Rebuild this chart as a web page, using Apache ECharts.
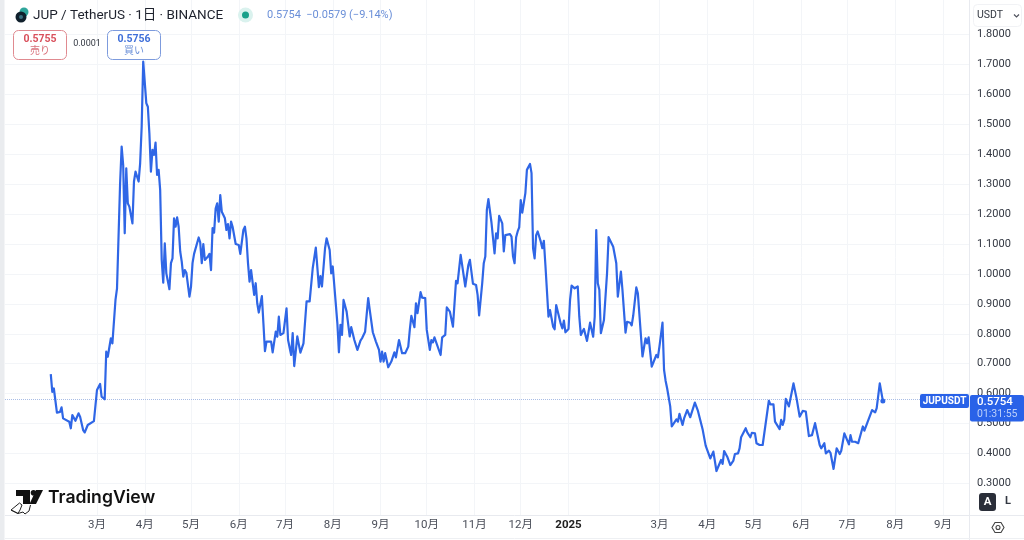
<!DOCTYPE html>
<html><head><meta charset="utf-8">
<style>html,body{margin:0;padding:0;background:#fff}#c{width:1024px;height:540px}</style>
<script src="https://cdn.jsdelivr.net/npm/echarts@6/dist/echarts.min.js"></script>
</head><body><div id="c"></div>
<script>
// Days counted from 2024-01-31
const days = [
0,1,2,4,6,7,8,12,13,14,16,18,19,21,22,24,28,30,31,32,33,35,36,37,39,40,42,43,45,46,
47,48,49,50,51,53,54,55,56,57,58,59,60,62,63,64,65,66,67,68,69,70,71,72,73,74,75,77,78,79,
80,81,82,83,84,85,86,87,88,90,91,92,93,94,96,97,98,99,100,102,103,104,105,106,107,108,109,110,111,113,
114,115,116,117,118,120,122,123,125,126,127,128,129,130,132,133,134,135,137,138,139,140,143,144,146,147,148,
149,151,153,154,156,157,158,160,162,164,166,168,170,172,174,175,176,178,179,181,
182,183,186,187,188,189,190,192,194,195,197,199,201,202,204,206,207,208,209,211,
213,214,215,216,217,219,221,223,224,226,227,228,230,232,233,234,236,237,238,240,
241,243,244,246,247,248,249,253,254,256,257,259,261,263,264,266,267,269,271,272,273,274,276,277,278,
280,281,282,283,284,285,286,287,288,289,290,291,293,294,295,296,298,299,300,301,
302,303,304,305,306,308,309,310,311,312,313,314,315,316,318,319,320,321,323,324,
325,326,327,328,329,331,332,333,334,336,337,338,340,341,342,343,344,345,346,348,
350,352,353,354,355,356,357,358,359,361,362,363,365,366,367,368,369,370,371,373,
374,376,377,378,379,380,381,384,385,386,387,388,389,390,391,393,394,395,396,397,398,
399,400,402,403,404,406,407,408,409,410,411,412,413,415,416,418,420,421,423,424,
425,426,428,430,432,433,435,436,437,439,440,441,443,444,446,447,448,451,452,453,
454,455,457,458,460,462,466,467,469,470,473,474,475,476,477,479,480,482,484,486,
488,490,492,494,496,499,500,502,503,505,506,508,510,512,513,515,516,518,519,520,
522,523,524,527,528,530,531,533,534,535,536,538,540
];
const prices = [
.665,.606,.617,.536,.539,.554,.517,.506,.484,.528,.509,.534,.523,.478,.470,.495,.508,.612,.606,.632,.590,.581,.740,.723,.785,.768,.913,.952,1.303,1.426,
1.364,1.136,1.353,1.236,1.225,1.169,1.309,1.342,1.342,1.309,1.370,1.493,1.710,1.571,1.559,1.470,1.342,1.415,1.398,1.439,1.331,1.348,1.281,1.047,.971,1.102,1.002,.949,1.036,1.052,
1.186,1.158,1.189,1.158,1.075,1.041,.991,1.013,1.004,.924,.957,1.036,1.067,1.069,1.122,1.105,1.036,1.100,1.047,1.058,1.067,1.013,1.153,1.138,1.219,1.236,1.175,1.264,1.208,1.186,
1.147,1.167,1.119,1.175,1.158,1.100,1.097,1.067,1.147,1.158,1.119,1.036,.974,1.013,.930,.969,.902,.871,.926,.835,.742,.774,.774,.738,.807,.790,.857,
.796,.802,.885,.779,.729,.802,.692,.791,.737,.768,.908,.908,1.019,1.088,.956,.993,.958,1.086,1.119,1.080,
1.002,1.025,.835,.738,.830,.796,.913,.874,.791,.822,.779,.746,.777,.785,.807,.919,.880,.880,.805,.774,
.746,.707,.740,.707,.735,.688,.707,.738,.721,.779,.785,.735,.735,.757,.813,.860,.822,.902,.869,.939,
.921,.919,.813,.746,.779,.771,.788,.729,.788,.796,.888,.874,.824,.977,.969,1.064,1.067,.958,1.030,1.047,1.047,.967,.963,.930,.861,
.969,1.036,1.058,1.214,1.250,1.245,1.172,1.167,1.069,1.136,1.119,1.194,1.169,1.075,1.130,1.125,1.133,1.125,1.058,1.036,
1.123,1.142,1.156,1.247,1.205,1.270,1.348,1.342,1.368,1.337,1.086,1.052,1.130,1.142,1.108,1.086,1.111,1.030,.857,.879,
.852,.824,.815,.896,.899,.833,.818,.844,.805,.816,.913,.961,.952,.949,.958,.857,.796,.807,.816,.776,
.837,.790,.857,1.147,.969,.947,.802,.798,.846,1.002,1.123,1.123,1.091,1.091,1.036,.924,.919,1.008,.947,.804,
.840,.837,.828,.861,.857,.955,.935,.724,.721,.785,.768,.788,.785,.690,.696,.729,.721,.757,.759,.837,.679,
.643,.618,.557,.490,.484,.514,.506,.532,.534,.495,.517,.517,.545,.521,.525,.570,.542,.547,.481,.481,
.426,.426,.383,.406,.341,.337,.378,.365,.408,.389,.386,.361,.376,.398,.400,.417,.454,.484,.470,.469,
.454,.469,.467,.434,.428,.428,.576,.564,.564,.506,.481,.512,.495,.512,.582,.557,.551,.634,.584,.523,
.542,.540,.458,.461,.501,.428,.417,.434,.400,.409,.402,.348,.417,.398,.409,.467,.465,.430,.461,.439,
.439,.443,.434,.490,.476,.504,.504,.545,.547,.537,.551,.634,.5754
];
const monthTickDays = [30,61,91,122,152,183,214,244,275,305,336,395,426,456,487,517,548,579];
const monthTickLabels = ['3月','4月','5月','6月','7月','8月','9月','10月','11月','12月','2025','3月','4月','5月','6月','7月','8月','9月'];
const priceTicks = [0.3,0.4,0.5,0.6,0.7,0.8,0.9,1.0,1.1,1.2,1.3,1.4,1.5,1.6,1.7,1.8];
const lastPrice = 0.5754;

const FONT = "Roboto, 'Noto Sans CJK JP', sans-serif";
const pairs = days.map((d, i) => [d, prices[i]]);
function t(x, y, text, size, fill, extra) {
  return Object.assign({type:'text', z:50, style:Object.assign({x, y, text, fontSize:size, fill, fontFamily:FONT, verticalAlign:'middle', align:'left'}, extra||{})});
}
function box(x, y, w, h, r, fill, stroke) {
  return {type:'rect', z:49, shape:{x, y, width:w, height:h, r}, style:{fill, stroke, lineWidth:1}};
}
const BLUE = '#2962e8';
const graphic = [
  box(0,0,4.5,540,0,'#eaecef','none'),
  {type:'line', z:2, shape:{x1:969.5,y1:0,x2:969.5,y2:540}, style:{stroke:'#e8eaef',lineWidth:1}},
  {type:'line', z:2, shape:{x1:5,y1:515.5,x2:1024,y2:515.5}, style:{stroke:'#e8eaef',lineWidth:1}},
  {type:'line', z:2, shape:{x1:5,y1:538.5,x2:1024,y2:538.5}, style:{stroke:'#eef0f3',lineWidth:1}},
  // header symbol
  {type:'circle', z:50, shape:{cx:24,cy:12,r:4.5}, style:{fill:'#2fa59b'}},
  {type:'circle', z:51, shape:{cx:21,cy:17,r:5.5}, style:{fill:'#10202c'}},
  {type:'circle', z:52, shape:{cx:21,cy:17,r:2}, style:{fill:'#3a6f7f'}},
  t(33,15.5,'JUP / TetherUS · 1日 · BINANCE',13.5,'#1e222d'),
  {type:'circle', z:50, shape:{cx:245.5,cy:15,r:7.5}, style:{fill:'#daf2ee'}},
  {type:'circle', z:51, shape:{cx:245.5,cy:15,r:3.5}, style:{fill:'#18a08a'}},
  t(267,15.5,'0.5754  −0.0579 (−9.14%)',11,'#6a8fd8'),
  // bid / ask
  box(13.5,30.5,53,29,5,'#fff','#e08a90'),
  t(40,39.5,'0.5755',10.5,'#d9505c',{align:'center',fontWeight:'bold'}),
  t(40,51.5,'売り',10,'#d9707a',{align:'center'}),
  t(87,44,'0.0001',9,'#333842',{align:'center'}),
  box(107.5,30.5,53,29,5,'#fff','#7d9bdd'),
  t(134,39.5,'0.5756',10.5,'#3f6fd9',{align:'center',fontWeight:'bold'}),
  t(134,51.5,'買い',10,'#6a8fd8',{align:'center'}),
  // currency
  box(973.5,4.5,48,22,4,'#fff','#f1f2f5'),
  t(977,15.5,'USDT',10.5,'#333842'),
  {type:'polyline', z:50, shape:{points:[[1014,14.5],[1016.5,17],[1019,14.5]]}, style:{stroke:'#50535e',fill:'none',lineWidth:1.2}},
  // last price labels
  box(920,394,49,14,2,BLUE,'none'),
  t(944.5,401.5,'JUPUSDT',10,'#fff',{align:'center',fontWeight:'bold'}),
  box(970,395,54,26.5,2,BLUE,'none'),
  t(977,402,'0.5754',11.5,'#fff',{fontWeight:500}),
  t(977,414.5,'01:31:55',10.5,'#bcd0fa'),
  // TradingView mark
  {type:'polygon', z:50, shape:{points:[[16,490],[30,490],[30,504],[23,504],[23,496],[16,496]]}, style:{fill:'#111'}},
  {type:'circle', z:50, shape:{cx:33.5,cy:492.8,r:2.8}, style:{fill:'#111'}},
  {type:'polygon', z:50, shape:{points:[[36,490],[43,490],[36,504],[29.5,504]]}, style:{fill:'#111'}},
  t(48,497.5,'TradingView',17.6,'#111',{fontWeight:600,fontFamily:"Inter, Roboto, sans-serif"}),
  {type:'polyline', z:50, shape:{points:[[11,510],[19.5,503],[22,505],[20,510],[18,513.5],[11,510],[18,513.5],[23,512],[25,514],[29,511],[30.5,505]]}, style:{stroke:'#222',fill:'none',lineWidth:1}},
  // auto / log buttons
  box(979,493,17,18,3,'#2a2e39','none'),
  t(987.5,502,'A',11.5,'#fff',{align:'center',fontWeight:'bold'}),
  t(1008,501.5,'L',11,'#333842',{align:'center',fontWeight:'bold'}),
  // settings
  {type:'polygon', z:50, shape:{points:[[992,527.5],[995,522.5],[1001,522.5],[1004,527.5],[1001,532.5],[995,532.5]]}, style:{fill:'none',stroke:'#444',lineWidth:1.1}},
  {type:'circle', z:50, shape:{cx:998,cy:527.5,r:2}, style:{fill:'none',stroke:'#444',lineWidth:1.1}}
];
const chart = echarts.init(document.getElementById('c'), null, {renderer:'canvas'});
chart.setOption({
  animation:false,
  backgroundColor:'#fff',
  textStyle:{fontFamily:FONT},
  grid:{left:5,right:55,top:0,bottom:25,containLabel:false},
  xAxis:{
    type:'value', min:-29.7, max:595.9,
    axisLine:{show:false},
    axisTick:{show:false, customValues:monthTickDays},
    splitLine:{show:true, lineStyle:{color:'#f3f5f8',width:1}},
    axisLabel:{
      customValues:monthTickDays, margin:4, fontSize:11.5, color:'#4a4e59', fontFamily:FONT,
      formatter:(v)=>{
        const s = monthTickLabels[monthTickDays.indexOf(v)];
        return s === '2025' ? '{b|'+s+'}' : s;
      },
      rich:{b:{fontWeight:'bold',fontSize:11.5,color:'#222',fontFamily:FONT}}
    }
  },
  yAxis:{
    type:'value', position:'right', min:0.194, max:1.916,
    axisLine:{show:false},
    axisTick:{show:false, customValues:priceTicks},
    splitLine:{show:true, lineStyle:{color:'#f3f5f8',width:1}},
    axisLabel:{customValues:priceTicks, margin:8, fontSize:11, color:'#333842', fontFamily:FONT, padding:[3,0,0,0], formatter:(v)=>v.toFixed(4)}
  },
  series:[{
    type:'line', data:pairs, showSymbol:false, smooth:false,
    lineStyle:{color:'#2f66e6',width:2.2,join:'round'},
    itemStyle:{color:'#2f66e6'},
    z:10,
    markLine:{
      silent:true, symbol:'none', label:{show:false},
      lineStyle:{color:'#a9bde6',type:'dotted',width:1},
      data:[{yAxis:lastPrice}]
    },
    markPoint:{
      silent:true, symbol:'circle', symbolSize:5, label:{show:false},
      itemStyle:{color:'#2f66e6'},
      data:[{coord:[days[days.length-1],lastPrice]}]
    }
  }],
  graphic:{elements:graphic}
});
</script></body></html>
